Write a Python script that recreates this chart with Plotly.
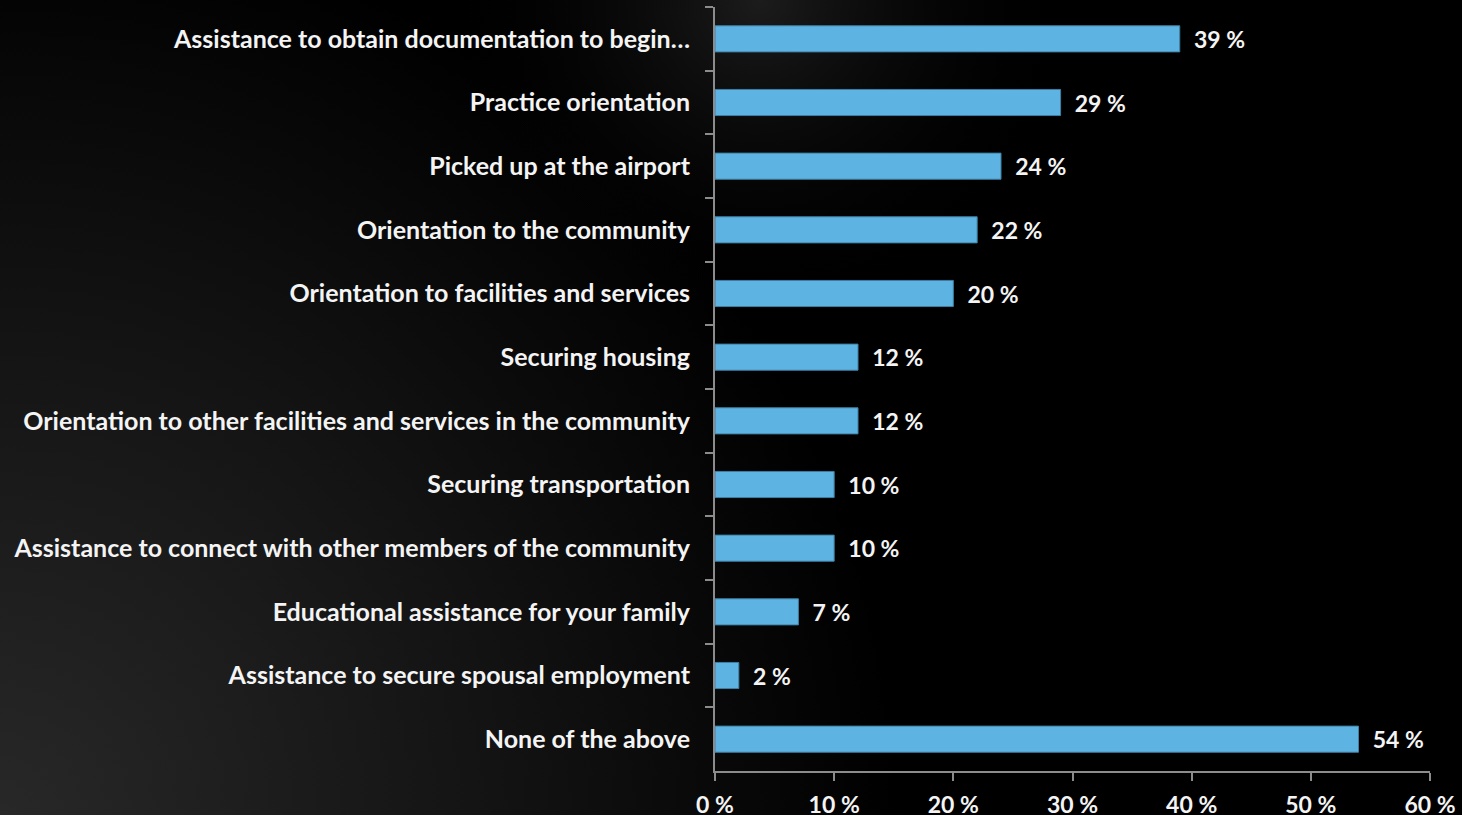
import base64
import plotly.graph_objects as go

# Survey: settlement services received
categories = [
    "Assistance to obtain documentation to begin\u2026",
    "Practice orientation",
    "Picked up at the airport",
    "Orientation to the community",
    "Orientation to facilities and services",
    "Securing housing",
    "Orientation to other facilities and services in the community",
    "Securing transportation",
    "Assistance to connect with other members of the community",
    "Educational assistance for your family",
    "Assistance to secure spousal employment",
    "None of the above",
]
percent = [39, 29, 24, 22, 20, 12, 12, 10, 10, 7, 2, 54]
x_ticks = [0, 10, 20, 30, 40, 50, 60]

W, H = 1462, 815
ML, MR, MT, MB = 715, 32, 7, 44
plot_w = W - ML - MR
plot_h = H - MT - MB

BAR = "#5DB4E3"
AXIS = "#8c8c8c"
TXT = "#f4f4f4"
FONT = "Lato"

# Dark slide background with soft light patches
svg = f"""<svg xmlns='http://www.w3.org/2000/svg' width='{W}' height='{H}' viewBox='0 0 {W} {H}' preserveAspectRatio='none'>
<defs>
<radialGradient id='g1' gradientUnits='userSpaceOnUse' cx='0' cy='{H}' r='900'>
<stop offset='0' stop-color='#282828'/>
<stop offset='0.55' stop-color='#131313'/>
<stop offset='1' stop-color='#000000'/>
</radialGradient>
<radialGradient id='g2' gradientUnits='userSpaceOnUse' cx='760' cy='0' r='320'>
<stop offset='0' stop-color='#1c1c1c' stop-opacity='1'/>
<stop offset='1' stop-color='#000000' stop-opacity='0'/>
</radialGradient>
</defs>
<rect width='{W}' height='{H}' fill='#000000'/>
<rect width='{W}' height='{H}' fill='url(#g1)'/>
<rect width='{W}' height='{H}' fill='url(#g2)'/>
</svg>"""
bg_uri = "data:image/svg+xml;base64," + base64.b64encode(svg.encode()).decode()

fig = go.Figure(
    go.Bar(
        x=percent,
        y=categories,
        orientation="h",
        marker=dict(color=BAR, line=dict(color="#3f7fa3", width=1)),
        text=[f"\u00a0\u00a0{v} %" for v in percent],
        textposition="outside",
        textfont=dict(family=FONT, size=23, color=TXT, weight="bold"),
        constraintext="none",
        cliponaxis=False,
        hoverinfo="skip",
    )
)

fig.update_layout(
    width=W,
    height=H,
    margin=dict(l=ML, r=MR, t=MT, b=MB, pad=0, autoexpand=False),
    paper_bgcolor="#000000",
    plot_bgcolor="rgba(0,0,0,0)",
    bargap=0.59,
    showlegend=False,
    font=dict(family=FONT, color=TXT),
    images=[
        dict(
            source=bg_uri,
            xref="paper",
            yref="paper",
            x=-ML / plot_w,
            y=1 + MT / plot_h,
            sizex=W / plot_w,
            sizey=H / plot_h,
            xanchor="left",
            yanchor="top",
            sizing="stretch",
            layer="below",
        )
    ],
)

fig.update_xaxes(
    range=[0, 60],
    tickvals=x_ticks,
    ticktext=[f"{v} %" for v in x_ticks],
    ticks="outside",
    ticklen=8,
    tickwidth=2,
    tickcolor=AXIS,
    showline=True,
    linecolor=AXIS,
    linewidth=2,
    showgrid=False,
    zeroline=False,
    automargin=False,
    tickfont=dict(family=FONT, size=23, color=TXT, weight="bold"),
    ticklabelstandoff=4,
)

fig.update_yaxes(
    categoryorder="array",
    categoryarray=categories,
    autorange="reversed",
    ticks="outside",
    tickson="boundaries",
    ticklen=8,
    tickwidth=2,
    tickcolor=AXIS,
    showline=True,
    linecolor=AXIS,
    linewidth=2,
    showgrid=False,
    zeroline=False,
    automargin=False,
    tickfont=dict(family=FONT, size=25, color=TXT, weight="bold"),
    ticklabelstandoff=18,
)

fig.write_html("out.html")
